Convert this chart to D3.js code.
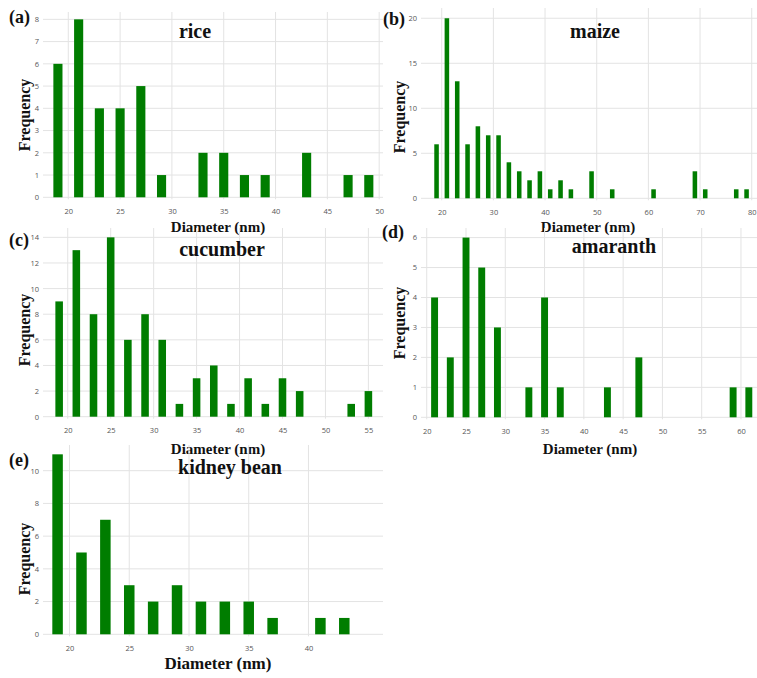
<!DOCTYPE html>
<html>
<head>
<meta charset="utf-8">
<script src="https://cdn.jsdelivr.net/npm/d3@7"></script>
<style>
  html, body { margin: 0; padding: 0; background: #fff; }
  svg { display: block; }
  .tick text { font-family: "Open Sans", "Noto Sans", sans-serif; font-size: 7.5px; fill: #555; }
  .serif { font-family: "Liberation Serif", "Times New Roman", serif; font-weight: bold; fill: #111; }
</style>
</head>
<body>
<svg id="chart" width="757" height="678"></svg>
<script>
// Particle diameter histograms (bin centres in nm, counts per bin)
const riceDiam = [19, 21, 23, 25, 27, 29, 33, 35, 37, 39, 43, 47, 49];
const riceFreq = [6, 8, 4, 4, 5, 1, 2, 2, 1, 1, 2, 1, 1];

const maizeDiam = [19, 21, 23, 25, 27, 29, 31, 33, 35, 37, 39, 41, 43, 45, 49, 53, 61, 69, 71, 77, 79];
const maizeFreq = [6, 20, 13, 6, 8, 7, 7, 4, 3, 2, 3, 1, 2, 1, 3, 1, 1, 3, 1, 1, 1];

const cucumberDiam = [19, 21, 23, 25, 27, 29, 31, 33, 35, 37, 39, 41, 43, 45, 47, 53, 55];
const cucumberFreq = [9, 13, 8, 14, 6, 8, 6, 1, 3, 4, 1, 3, 1, 3, 2, 1, 2];

const amaranthDiam = [21, 23, 25, 27, 29, 33, 35, 37, 43, 47, 59, 61];
const amaranthFreq = [4, 2, 6, 5, 3, 1, 4, 1, 1, 2, 1, 1];

const beanDiam = [19, 21, 23, 25, 27, 29, 31, 33, 35, 37, 41, 43];
const beanFreq = [11, 5, 7, 3, 2, 3, 2, 2, 2, 1, 1, 1];

// Tick values
const riceXTicks = [20, 25, 30, 35, 40, 45, 50];
const riceYTicks = [0, 1, 2, 3, 4, 5, 6, 7, 8];
const maizeXTicks = [20, 30, 40, 50, 60, 70, 80];
const maizeYTicks = [0, 5, 10, 15, 20];
const cucumberXTicks = [20, 25, 30, 35, 40, 45, 50, 55];
const cucumberYTicks = [0, 2, 4, 6, 8, 10, 12, 14];
const amaranthXTicks = [20, 25, 30, 35, 40, 45, 50, 55, 60];
const amaranthYTicks = [0, 1, 2, 3, 4, 5, 6];
const beanXTicks = [20, 25, 30, 35, 40];
const beanYTicks = [0, 2, 4, 6, 8, 10];

const titles = ["rice", "maize", "cucumber", "amaranth", "kidney bean"];
const letters = ["(a)", "(b)", "(c)", "(d)", "(e)"];

// Panel geometry
const panels = [
  { diam: riceDiam, freq: riceFreq, xt: riceXTicks, yt: riceYTicks,
    xd: [17.56, 50.37], xr: [43, 383], yd: [0, 8.33], yr: [197.3, 12],
    title: [195, 38], letter: [9, 23], ylab: [24, 115], xlab: [218, 232, 15] },
  { diam: maizeDiam, freq: maizeFreq, xt: maizeXTicks, yt: maizeYTicks,
    xd: [15.99, 81.02], xr: [421, 757], yd: [0, 21.14], yr: [198.3, 8],
    title: [595, 38], letter: [383, 25], ylab: [399, 117], xlab: [588, 232, 15] },
  { diam: cucumberDiam, freq: cucumberFreq, xt: cucumberXTicks, yt: cucumberYTicks,
    xd: [17.12, 56.70], xr: [43, 383], yd: [0, 14.73], yr: [416.7, 228],
    title: [222, 256], letter: [9, 246], ylab: [24, 330], xlab: [218, 454, 15] },
  { diam: amaranthDiam, freq: amaranthFreq, xt: amaranthXTicks, yt: amaranthYTicks,
    xd: [19.27, 62.04], xr: [421, 757], yd: [0, 6.32], yr: [417.3, 228],
    title: [614, 253], letter: [382, 238], ylab: [399, 323], xlab: [590, 454, 15] },
  { diam: beanDiam, freq: beanFreq, xt: beanXTicks, yt: beanYTicks,
    xd: [17.78, 46.24], xr: [43, 383], yd: [0, 11.57], yr: [634.3, 445],
    title: [230, 474], letter: [9, 466], ylab: [24, 559], xlab: [218, 669, 17] }
];

const svg = d3.select("#chart");
const barWidthUnits = 0.88;
const fmt = d3.format("d");

panels.forEach((p, i) => {
  const x = d3.scaleLinear().domain(p.xd).range(p.xr);
  const y = d3.scaleLinear().domain(p.yd).range(p.yr);
  const g = svg.append("g");
  const bottom = p.yr[0] + 2;

  // grid
  g.append("g").selectAll("line").data(p.yt).join("line")
    .attr("x1", p.xr[0]).attr("x2", p.xr[1])
    .attr("y1", d => y(d)).attr("y2", d => y(d))
    .attr("stroke", "#e3e3e3").attr("stroke-width", 1);
  g.append("g").selectAll("line").data(p.xt).join("line")
    .attr("x1", d => x(d)).attr("x2", d => x(d))
    .attr("y1", p.yr[1]).attr("y2", bottom)
    .attr("stroke", "#e3e3e3").attr("stroke-width", 1);

  // bars
  const bw = x(p.xd[0] + barWidthUnits) - x(p.xd[0]);
  g.append("g").selectAll("rect").data(p.diam).join("rect")
    .attr("x", d => x(d) - bw / 2)
    .attr("width", bw)
    .attr("y", (d, k) => y(p.freq[k]))
    .attr("height", (d, k) => y(0) - y(p.freq[k]))
    .attr("fill", "#007d00");

  // axes (labels only)
  const yAxis = g.append("g").attr("transform", `translate(${p.xr[0] - 3},0)`)
    .call(d3.axisLeft(y).tickValues(p.yt).tickFormat(fmt).tickSize(0).tickPadding(1));
  yAxis.select(".domain").remove();
  const xAxis = g.append("g").attr("transform", `translate(0,${bottom + 9})`)
    .call(d3.axisBottom(x).tickValues(p.xt).tickFormat(fmt).tickSize(0).tickPadding(0));
  xAxis.select(".domain").remove();

  // titles
  g.append("text").attr("class", "serif").attr("x", p.title[0]).attr("y", p.title[1])
    .attr("text-anchor", "middle").attr("font-size", 20).text(titles[i]);
  g.append("text").attr("class", "serif").attr("x", p.letter[0]).attr("y", p.letter[1])
    .attr("font-size", 18).text(letters[i]);
  g.append("text").attr("class", "serif")
    .attr("transform", `translate(${p.ylab[0]},${p.ylab[1]}) rotate(-90)`)
    .attr("text-anchor", "middle").attr("dy", "0.35em").attr("font-size", 16).text("Frequency");
  g.append("text").attr("class", "serif").attr("x", p.xlab[0]).attr("y", p.xlab[1])
    .attr("text-anchor", "middle").attr("font-size", p.xlab[2]).text("Diameter (nm)");
});
</script>
</body>
</html>
